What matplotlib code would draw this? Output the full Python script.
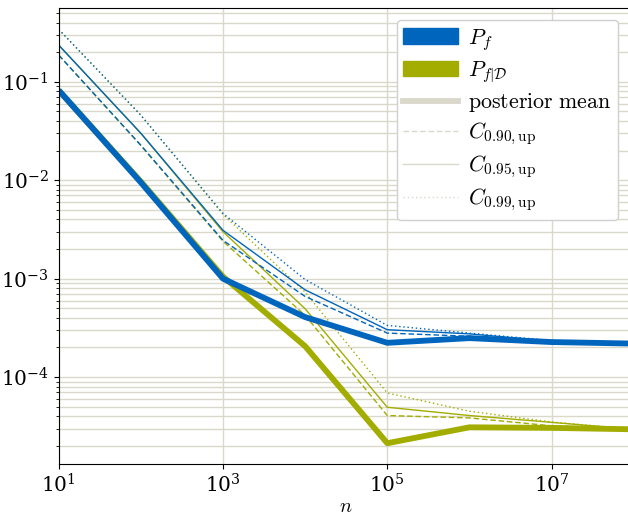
import numpy as np
import matplotlib
matplotlib.use('Agg')
import matplotlib.pyplot as plt
from matplotlib.patches import Patch
from matplotlib.lines import Line2D

# TUM-like colours
blue = '#0065BD'
olive = '#A2AD00'
ivory = '#DAD7CB'

n = [1e1, 1e2, 1e3, 1e4, 1e5, 1e6, 1e7, 1e8]

# P_f (prior) and its upper credible bounds
pf_mean = [0.082, 0.0095, 1.0e-3, 4.07e-4, 2.23e-4, 2.49e-4, 2.27e-4, 2.19e-4]
pf_c90 = [0.187, 0.0227, 2.45e-3, 6.6e-4, 2.8e-4, 2.6e-4, 2.3e-4, 2.2e-4]
pf_c95 = [0.236, 0.030, 3.1e-3, 7.7e-4, 3.03e-4, 2.75e-4, 2.32e-4, 2.2e-4]
pf_c99 = [0.341, 0.0458, 4.6e-3, 9.8e-4, 3.35e-4, 2.8e-4, 2.35e-4, 2.2e-4]

# P_f|D (posterior given data) and its upper credible bounds
pfd_mean = [0.082, 0.0097, 1.05e-3, 2.06e-4, 2.13e-5, 3.09e-5, 3.05e-5, 2.95e-5]
pfd_c90 = [0.187, 0.0225, 2.4e-3, 4.24e-4, 4.07e-5, 3.85e-5, 3.2e-5, 2.95e-5]
pfd_c95 = [0.236, 0.030, 3.0e-3, 4.95e-4, 4.94e-5, 4.07e-5, 3.47e-5, 2.95e-5]
pfd_c99 = [0.341, 0.0458, 4.5e-3, 7.3e-4, 6.9e-5, 4.5e-5, 3.5e-5, 2.95e-5]

plt.rcParams['mathtext.fontset'] = 'cm'
plt.rcParams['font.family'] = 'serif'
plt.rcParams['font.serif'] = ['DejaVu Serif']
plt.rcParams['font.size'] = 14.5

fig = plt.figure(figsize=(6.28, 5.15), dpi=100)
ax = fig.add_axes([58.7 / 628, 51 / 515, 575 / 628, 455.7 / 515])

thick, thin = 4.2, 1.0
for col, mean, c90, c95, c99 in [(olive, pfd_mean, pfd_c90, pfd_c95, pfd_c99),
                                 (blue, pf_mean, pf_c90, pf_c95, pf_c99)]:
    ax.plot(n, c90, color=col, lw=thin, ls=(0, (4, 2)))
    ax.plot(n, c95, color=col, lw=thin, ls='-')
    ax.plot(n, c99, color=col, lw=thin, ls=(0, (1, 2)))
    ax.plot(n, mean, color=col, lw=thick, solid_capstyle='butt')

ax.set_xscale('log')
ax.set_yscale('log')
ax.set_xlim(1e1, 1e8)
ax.set_ylim(1.31e-5, 0.558)
ax.set_xticks([1e1, 1e3, 1e5, 1e7])
ax.xaxis.set_minor_locator(matplotlib.ticker.NullLocator())
ax.set_xlabel('$n$', labelpad=0)

ax.grid(True, which='major', color=ivory, lw=1.0)
ax.grid(True, which='minor', axis='y', color=ivory, lw=1.0)
ax.set_axisbelow(True)
ax.spines['right'].set_visible(False)
ax.tick_params(which='both', direction='out', color='black')

handles = [
    Patch(facecolor=blue, edgecolor=blue, label='$P_f$'),
    Patch(facecolor=olive, edgecolor=olive, label=r'$P_{f|\mathcal{D}}$'),
    Line2D([], [], color=ivory, lw=thick, label=r'$\mathrm{posterior\ mean}$'),
    Line2D([], [], color=ivory, lw=thin, ls=(0, (4, 2)), label=r'$C_{0.90,\mathrm{up}}$'),
    Line2D([], [], color=ivory, lw=thin, ls='-', label=r'$C_{0.95,\mathrm{up}}$'),
    Line2D([], [], color=ivory, lw=thin, ls=(0, (1, 2)), label=r'$C_{0.99,\mathrm{up}}$'),
]
leg = ax.legend(handles=handles, loc='upper right', handlelength=2.5,
                fontsize=15.8, framealpha=1.0, edgecolor='#d0d0d0',
                labelspacing=0.3, borderpad=0.3, handletextpad=0.45,
                borderaxespad=0, bbox_to_anchor=(0.9727, 0.9743))

fig.savefig('out.png', dpi=100)
